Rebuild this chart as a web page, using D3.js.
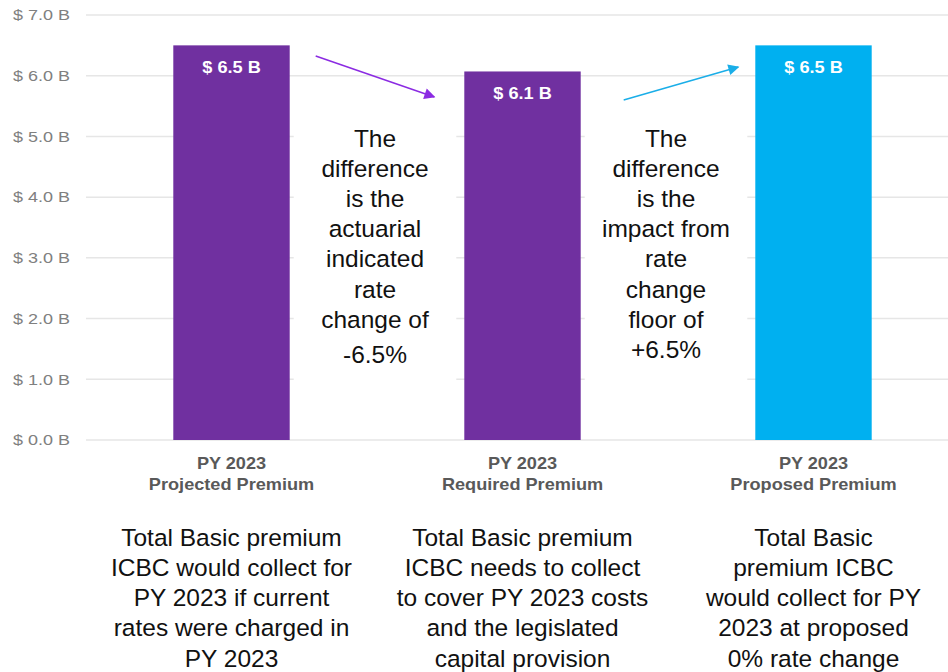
<!DOCTYPE html>
<html><head><meta charset="utf-8">
<script src="https://cdn.jsdelivr.net/npm/d3@7"></script>
<style>body{margin:0;background:#fff}svg{display:block}text{font-family:"Liberation Sans",Arial,sans-serif}</style>
</head><body><svg id="c" width="948" height="672"></svg>
<script>
const categories = ["Projected Premium", "Required Premium", "Proposed Premium"];
const catPrefix = ["PY 2023", "PY 2023", "PY 2023"];
const values = [6.5, 6.07, 6.5];
const valueLabels = ["$ 6.5 B", "$ 6.1 B", "$ 6.5 B"];
const barColors = ["#7030A0", "#7030A0", "#00B0F0"];
const yTicks = [0, 1, 2, 3, 4, 5, 6, 7];
const descriptions = [
  ["Total Basic premium", "ICBC would collect for", "PY 2023 if current", "rates were charged in", "PY 2023"],
  ["Total Basic premium", "ICBC needs to collect", "to cover PY 2023 costs", "and the legislated", "capital provision"],
  ["Total Basic", "premium ICBC", "would collect for PY", "2023 at proposed", "0% rate change"]
];
const notes = [
  ["The", "difference", "is the", "actuarial", "indicated", "rate", "change of", "-6.5%"],
  ["The", "difference", "is the", "impact from", "rate", "change", "floor of", "+6.5%"]
];

const svg = d3.select("#c");
const x = d3.scaleBand().domain(categories).range([86, 959]).paddingInner(0.6).paddingOuter(0.3);
const y = d3.scaleLinear().domain([0, 7]).range([440, 15]);

// gridlines
svg.append("g").selectAll("line").data(yTicks).join("line")
  .attr("x1", 86).attr("x2", 948)
  .attr("y1", d => y(d)).attr("y2", d => y(d))
  .attr("stroke", "#e6e6e6").attr("stroke-width", 1.5);

// y tick labels (slightly widened glyphs)
svg.append("g").selectAll("text").data(yTicks).join("text")
  .attr("transform", d => `translate(70,${y(d)}) scale(1.2,1)`).attr("dy", "0.35em")
  .attr("text-anchor", "end").attr("fill", "#808080").attr("font-size", 15)
  .text(d => "$ " + d.toFixed(1) + " B");

// note boxes (white, cover gridlines)
const gaps = [[categories[0], categories[1]], [categories[1], categories[2]]];
gaps.forEach((g, i) => {
  const x0 = x(g[0]) + x.bandwidth() + 4, x1 = x(g[1]) - 8;
  svg.append("rect").attr("x", x0).attr("y", 100).attr("width", x1 - x0).attr("height", 332).attr("fill", "#fff");
  const cx = (x0 + x1) / 2;
  const t = svg.append("text").attr("text-anchor", "middle").attr("font-size", 24.5).attr("fill", "#111");
  notes[i].forEach((l, j) => {
    const yy = 138 + j * 30.2 + (j === notes[i].length - 1 && i === 0 ? 5 : 0);
    t.append("tspan").attr("x", cx).attr("y", yy).attr("dy", "0.35em").text(l);
  });
});

// bars
svg.append("g").selectAll("rect").data(values).join("rect")
  .attr("x", (d, i) => x(categories[i])).attr("width", x.bandwidth())
  .attr("y", d => y(d)).attr("height", d => y(0) - y(d))
  .attr("fill", (d, i) => barColors[i]);

// value labels
svg.append("g").selectAll("text").data(values).join("text")
  .attr("transform", (d, i) => `translate(${x(categories[i]) + x.bandwidth() / 2},${y(d) + 22}) scale(1.1,1)`)
  .attr("dy", "0.35em")
  .attr("text-anchor", "middle").attr("fill", "#fff").attr("font-weight", "bold").attr("font-size", 16.5)
  .text((d, i) => valueLabels[i]);

// category labels + descriptions
categories.forEach((c, i) => {
  const cx = x(c) + x.bandwidth() / 2;
  const t = svg.append("text").attr("transform", `translate(${cx},0) scale(1.1,1)`)
    .attr("text-anchor", "middle").attr("font-size", 16.5).attr("font-weight", "bold").attr("fill", "#595959");
  t.append("tspan").attr("x", 0).attr("y", 463).attr("dy", "0.35em").text(catPrefix[i]);
  t.append("tspan").attr("x", 0).attr("y", 484).attr("dy", "0.35em").text(c);
  const d = svg.append("text").attr("text-anchor", "middle").attr("font-size", 24.5).attr("fill", "#111");
  descriptions[i].forEach((l, j) => {
    d.append("tspan").attr("x", cx).attr("y", 537 + j * 30.3).attr("dy", "0.35em").text(l);
  });
});

// arrows
const defs = svg.append("defs");
[["ap", "#8B2BE2"], ["ab", "#1AAEE8"]].forEach(([id, col]) => {
  defs.append("marker").attr("id", id).attr("viewBox", "0 0 10 10").attr("refX", 9).attr("refY", 5)
    .attr("markerWidth", 15).attr("markerHeight", 11).attr("markerUnits", "userSpaceOnUse").attr("orient", "auto")
    .append("path").attr("d", "M0,0 L10,5 L0,10 Z").attr("fill", col);
});
const bx = i => x(categories[i]);
svg.append("line").attr("x1", bx(0) + x.bandwidth() + 26).attr("y1", 56).attr("x2", bx(1) - 30).attr("y2", 97)
  .attr("stroke", "#8B2BE2").attr("stroke-width", 1.5).attr("marker-end", "url(#ap)");
svg.append("line").attr("x1", bx(1) + x.bandwidth() + 43).attr("y1", 100).attr("x2", bx(2) - 17).attr("y2", 67)
  .attr("stroke", "#1AAEE8").attr("stroke-width", 1.5).attr("marker-end", "url(#ab)");
</script></body></html>
